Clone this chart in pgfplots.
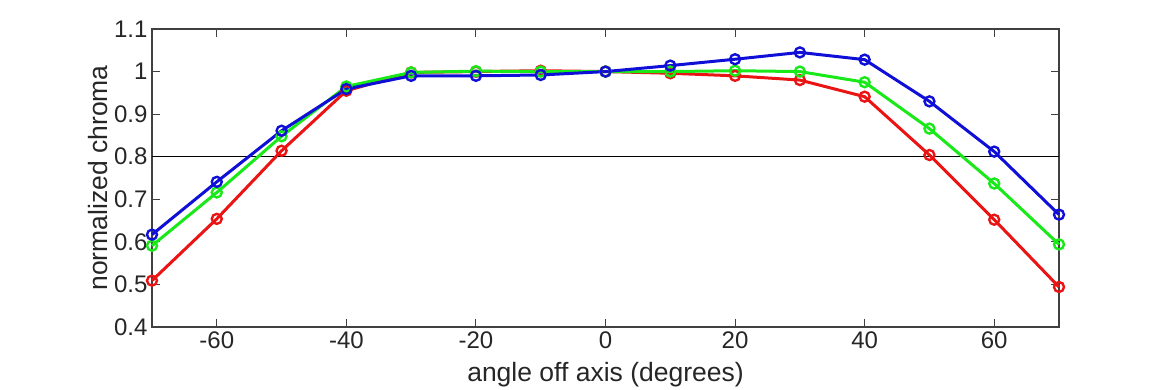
\documentclass[border=0pt]{standalone}
\usepackage{pgfplots}
\pgfplotsset{compat=1.18}
\usepackage{fontspec}
\setmainfont{Liberation Sans}
\definecolor{cred}{RGB}{235,20,20}
\definecolor{cgreen}{RGB}{25,232,25}
\definecolor{cblue}{RGB}{15,15,215}
\definecolor{axgray}{RGB}{64,64,64}
\begin{document}
\begin{tikzpicture}[x=1pt,y=1pt]
\path[use as bounding box] (0,0) rectangle (1170,390);
\begin{axis}[
  at={(152pt,63pt)}, anchor=south west,
  scale only axis, width=907pt, height=298pt,
  xmin=-70, xmax=70, ymin=0.4, ymax=1.1,
  xtick={-60,-40,-20,0,20,40,60},
  ytick={0.4,0.5,0.6,0.7,0.8,0.9,1,1.1},
  yticklabels={0.4,0.5,0.6,0.7,0.8,0.9,1,1.1},
  xticklabels={-60,-40,-20,0,20,40,60},
  tick align=inside, major tick length=8pt,
  tick style={axgray, line width=1pt},
  axis line style={axgray, line width=1.2pt},
  ticklabel style={font=\fontsize{24}{24}\selectfont, text=black!85},
  label style={font=\fontsize{26.5}{26.5}\selectfont, text=black!85},
  xlabel={angle off axis (degrees)},
  ylabel={normalized chroma},
  xticklabel style={yshift=-1pt},
  yticklabel style={xshift=-1pt},
  xlabel style={yshift=-7pt},
  ylabel style={yshift=-1pt},
  clip=false,
  every axis plot/.append style={line width=3pt, mark=o, mark size=5pt, mark options={line width=2.4pt}},
]
\addplot[black, line width=1.3pt, mark=none] coordinates {(-70,0.8) (70,0.8)};
\addplot[cred] coordinates {
(-70,0.509) (-60,0.654) (-50,0.814) (-40,0.955) (-30,0.998) (-20,1.000) (-10,1.002) (0,1.0)
(10,0.996) (20,0.990) (30,0.980) (40,0.941) (50,0.804) (60,0.652) (70,0.494)};
\addplot[cgreen] coordinates {
(-70,0.591) (-60,0.716) (-50,0.848) (-40,0.965) (-30,0.998) (-20,1.001) (-10,1.0) (0,1.0)
(10,1.0) (20,1.002) (30,1.0) (40,0.975) (50,0.866) (60,0.737) (70,0.594)};
\addplot[cblue] coordinates {
(-70,0.617) (-60,0.741) (-50,0.861) (-40,0.959) (-30,0.990) (-20,0.990) (-10,0.992) (0,1.0)
(10,1.014) (20,1.029) (30,1.045) (40,1.028) (50,0.930) (60,0.812) (70,0.664)};
\end{axis}
\end{tikzpicture}
\end{document}
